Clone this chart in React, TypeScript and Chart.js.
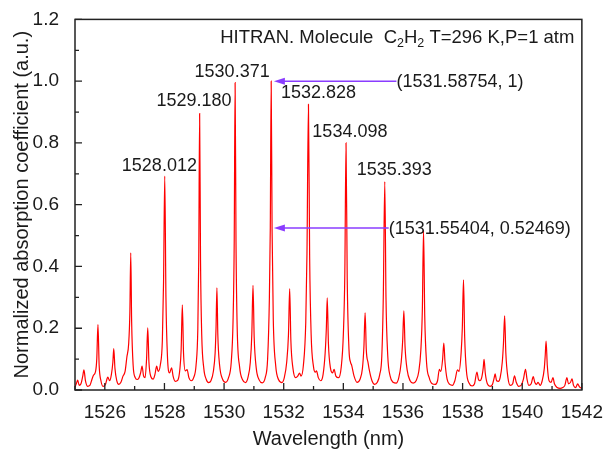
import React, { useEffect, useRef } from 'react';
import { Chart, registerables } from 'chart.js';

Chart.register(...registerables);

// Spectrum (wavelength in nm, normalized absorption)
const wavelength = [
  1525.00, 1525.05, 1525.09, 1525.14, 1525.20, 1525.26, 1525.30, 1525.35, 1525.42, 1525.50,
  1525.57, 1525.62, 1525.69, 1525.73, 1525.77, 1525.81, 1525.87, 1525.94, 1526.02, 1526.07,
  1526.10, 1526.16, 1526.22, 1526.27, 1526.30, 1526.34, 1526.40, 1526.47, 1526.54, 1526.61,
  1526.68, 1526.74, 1526.80, 1526.84, 1526.87, 1526.90, 1526.95, 1527.02, 1527.08, 1527.14,
  1527.20, 1527.25, 1527.30, 1527.35, 1527.40, 1527.44, 1527.48, 1527.55, 1527.62, 1527.68,
  1527.74, 1527.79, 1527.86, 1527.93, 1527.97, 1528.01, 1528.05, 1528.10, 1528.17, 1528.24,
  1528.29, 1528.36, 1528.45, 1528.52, 1528.56, 1528.60, 1528.64, 1528.70, 1528.76, 1528.82,
  1528.90, 1528.98, 1529.06, 1529.12, 1529.15, 1529.18, 1529.21, 1529.25, 1529.32, 1529.40,
  1529.48, 1529.56, 1529.64, 1529.70, 1529.73, 1529.76, 1529.79, 1529.85, 1529.95, 1530.05,
  1530.15, 1530.24, 1530.30, 1530.34, 1530.37, 1530.40, 1530.44, 1530.52, 1530.62, 1530.72,
  1530.80, 1530.88, 1530.93, 1530.97, 1531.01, 1531.08, 1531.18, 1531.28, 1531.38, 1531.46,
  1531.52, 1531.55, 1531.58, 1531.61, 1531.65, 1531.73, 1531.83, 1531.94, 1532.02, 1532.10,
  1532.16, 1532.20, 1532.24, 1532.31, 1532.40, 1532.47, 1532.53, 1532.58, 1532.66, 1532.74,
  1532.78, 1532.83, 1532.87, 1532.92, 1533.00, 1533.06, 1533.10, 1533.16, 1533.24, 1533.32,
  1533.39, 1533.43, 1533.46, 1533.50, 1533.57, 1533.64, 1533.69, 1533.75, 1533.84, 1533.93,
  1534.00, 1534.05, 1534.09, 1534.13, 1534.19, 1534.24, 1534.28, 1534.36, 1534.46, 1534.56,
  1534.64, 1534.69, 1534.73, 1534.77, 1534.83, 1534.88, 1534.96, 1535.05, 1535.14, 1535.22,
  1535.29, 1535.34, 1535.39, 1535.43, 1535.49, 1535.57, 1535.67, 1535.77, 1535.86, 1535.94,
  1535.99, 1536.03, 1536.07, 1536.14, 1536.24, 1536.34, 1536.44, 1536.53, 1536.60, 1536.65,
  1536.69, 1536.73, 1536.79, 1536.88, 1536.98, 1537.08, 1537.16, 1537.22, 1537.27, 1537.33,
  1537.37, 1537.41, 1537.48, 1537.57, 1537.66, 1537.74, 1537.83, 1537.88, 1537.95, 1537.99,
  1538.03, 1538.07, 1538.13, 1538.22, 1538.32, 1538.40, 1538.48, 1538.53, 1538.58, 1538.64,
  1538.69, 1538.72, 1538.76, 1538.83, 1538.92, 1539.00, 1539.06, 1539.09, 1539.14, 1539.20,
  1539.26, 1539.33, 1539.37, 1539.41, 1539.45, 1539.52, 1539.60, 1539.68, 1539.74, 1539.80,
  1539.88, 1539.96, 1540.04, 1540.11, 1540.16, 1540.22, 1540.30, 1540.37, 1540.42, 1540.48,
  1540.53, 1540.60, 1540.67, 1540.74, 1540.77, 1540.80, 1540.84, 1540.90, 1540.97, 1541.03,
  1541.08, 1541.17, 1541.27, 1541.36, 1541.43, 1541.50, 1541.55, 1541.62, 1541.67, 1541.72,
  1541.79, 1541.86, 1541.92, 1542.00,
];

const absorbance = [
  0.010, 0.022, 0.032, 0.015, 0.020, 0.045, 0.065, 0.030, 0.012, 0.015,
  0.035, 0.048, 0.060, 0.100, 0.212, 0.080, 0.030, 0.012, 0.018, 0.035,
  0.042, 0.030, 0.050, 0.090, 0.134, 0.070, 0.030, 0.018, 0.025, 0.045,
  0.060, 0.107, 0.150, 0.250, 0.444, 0.220, 0.080, 0.040, 0.034, 0.038,
  0.055, 0.077, 0.045, 0.040, 0.100, 0.201, 0.090, 0.042, 0.035, 0.050,
  0.077, 0.060, 0.080, 0.160, 0.350, 0.693, 0.300, 0.110, 0.055, 0.072,
  0.045, 0.028, 0.032, 0.070, 0.130, 0.276, 0.120, 0.062, 0.066, 0.040,
  0.030, 0.040, 0.080, 0.200, 0.420, 0.895, 0.420, 0.180, 0.070, 0.035,
  0.024, 0.030, 0.060, 0.120, 0.200, 0.331, 0.180, 0.080, 0.035, 0.025,
  0.040, 0.090, 0.220, 0.480, 0.995, 0.480, 0.200, 0.075, 0.033, 0.024,
  0.040, 0.090, 0.180, 0.339, 0.170, 0.070, 0.032, 0.023, 0.040, 0.100,
  0.300, 0.525, 1.000, 0.520, 0.230, 0.080, 0.033, 0.024, 0.040, 0.090,
  0.180, 0.328, 0.160, 0.070, 0.040, 0.045, 0.055, 0.045, 0.080, 0.220,
  0.440, 0.925, 0.430, 0.180, 0.075, 0.058, 0.062, 0.040, 0.030, 0.050,
  0.120, 0.200, 0.298, 0.150, 0.070, 0.055, 0.067, 0.045, 0.040, 0.075,
  0.180, 0.380, 0.800, 0.360, 0.130, 0.090, 0.080, 0.045, 0.025, 0.035,
  0.070, 0.140, 0.250, 0.130, 0.088, 0.060, 0.030, 0.018, 0.025, 0.050,
  0.110, 0.300, 0.675, 0.300, 0.110, 0.045, 0.025, 0.022, 0.040, 0.090,
  0.160, 0.256, 0.140, 0.065, 0.030, 0.022, 0.030, 0.060, 0.130, 0.260,
  0.518, 0.240, 0.090, 0.040, 0.020, 0.018, 0.030, 0.067, 0.060, 0.100,
  0.152, 0.090, 0.035, 0.018, 0.015, 0.030, 0.065, 0.060, 0.120, 0.200,
  0.357, 0.170, 0.060, 0.022, 0.013, 0.020, 0.058, 0.035, 0.030, 0.040,
  0.070, 0.099, 0.055, 0.020, 0.012, 0.018, 0.040, 0.052, 0.030, 0.028,
  0.040, 0.090, 0.150, 0.240, 0.120, 0.040, 0.015, 0.020, 0.046, 0.025,
  0.012, 0.015, 0.035, 0.067, 0.035, 0.015, 0.020, 0.043, 0.025, 0.018,
  0.025, 0.015, 0.030, 0.070, 0.110, 0.158, 0.080, 0.030, 0.025, 0.040,
  0.020, 0.008, 0.005, 0.008, 0.015, 0.040, 0.020, 0.025, 0.036, 0.015,
  0.008, 0.020, 0.010, 0.005,
];

// Peak labels (text, anchor wavelength, anchor value)
const peakLabels = ['1528.012', '1529.180', '1530.371', '1532.828', '1534.098', '1535.393'];
const peakLabelX = [1527.83, 1528.99, 1530.27, 1533.17, 1534.22, 1535.71];
const peakLabelY = [0.726, 0.935, 1.030, 0.962, 0.836, 0.713];

// Arrow annotations
const arrowLabels = ['(1531.58754, 1)', '(1531.55404, 0.52469)'];
const arrowTipX = [1531.67, 1531.67];
const arrowTextX = [1535.78, 1535.52];
const arrowY = [1, 0.52469];

// Header text pieces (subscript flags)
const headerParts = ['HITRAN. Molecule  C', '2', 'H', '2', ' T=296 K,P=1 atm'];
const headerSub = [false, true, false, true, false];
const headerX = 1529.87;
const headerY = 1.141;

const xTitle = 'Wavelength (nm)';
const yTitle = 'Normalized absorption coefficient (a.u.)';

const FONT = '"Liberation Sans", Arial, sans-serif';
const TEXT = '#1a1a1a';
const PURPLE = '#8a3cff';

const overlayPlugin = {
  id: 'overlay',
  afterDatasetsDraw(chart: any) {
    const { ctx, chartArea, scales } = chart;
    const xs = scales.x;
    const ys = scales.y;
    const { left, right, top, bottom } = chartArea;
    ctx.save();

    // frame
    ctx.strokeStyle = '#222';
    ctx.lineWidth = 1.5;
    ctx.strokeRect(left, top, right - left, bottom - top);

    // inward ticks
    ctx.lineWidth = 1.3;
    ctx.beginPath();
    xs.ticks.forEach((t: any) => {
      const px = xs.getPixelForValue(t.value);
      const major = Math.round(t.value) % 2 === 0;
      const len = major ? 7 : 4;
      ctx.moveTo(px, bottom);
      ctx.lineTo(px, bottom - len);
    });
    ys.ticks.forEach((t: any) => {
      const py = ys.getPixelForValue(t.value);
      const major = Math.round(t.value * 10) % 2 === 0;
      const len = major ? 7 : 4;
      ctx.moveTo(left, py);
      ctx.lineTo(left + len, py);
    });
    ctx.stroke();

    // peak labels
    ctx.fillStyle = TEXT;
    ctx.font = `18px ${FONT}`;
    ctx.textAlign = 'center';
    ctx.textBaseline = 'middle';
    peakLabels.forEach((s, i) => {
      ctx.fillText(s, xs.getPixelForValue(peakLabelX[i]), ys.getPixelForValue(peakLabelY[i]));
    });

    // arrows
    arrowLabels.forEach((s, i) => {
      const y = ys.getPixelForValue(arrowY[i]);
      const tip = xs.getPixelForValue(arrowTipX[i]);
      const start = xs.getPixelForValue(arrowTextX[i]);
      ctx.strokeStyle = PURPLE;
      ctx.fillStyle = PURPLE;
      ctx.lineWidth = 1.5;
      ctx.beginPath();
      ctx.moveTo(start, y);
      ctx.lineTo(tip + 8, y);
      ctx.stroke();
      ctx.beginPath();
      ctx.moveTo(tip, y);
      ctx.lineTo(tip + 11, y - 3.5);
      ctx.lineTo(tip + 11, y + 3.5);
      ctx.closePath();
      ctx.fill();
      ctx.fillStyle = TEXT;
      ctx.textAlign = 'left';
      ctx.textBaseline = 'middle';
      ctx.font = `18px ${FONT}`;
      ctx.fillText(s, start, y + 1);
    });

    // header
    let hx = xs.getPixelForValue(headerX);
    const hy = ys.getPixelForValue(headerY);
    ctx.textAlign = 'left';
    ctx.textBaseline = 'middle';
    headerParts.forEach((s, i) => {
      const sub = headerSub[i];
      ctx.font = sub ? `12.5px ${FONT}` : `18.5px ${FONT}`;
      ctx.fillText(s, hx, sub ? hy + 6 : hy);
      hx += ctx.measureText(s).width;
    });

    // axis titles
    ctx.font = `20px ${FONT}`;
    ctx.textAlign = 'center';
    ctx.textBaseline = 'middle';
    ctx.fillText(xTitle, (left + right) / 2, 439);
    ctx.save();
    ctx.translate(22, (top + bottom) / 2);
    ctx.rotate(-Math.PI / 2);
    ctx.fillText(yTitle, 0, 0);
    ctx.restore();

    ctx.restore();
  },
};

export default function App() {
  const ref = useRef<HTMLCanvasElement | null>(null);

  useEffect(() => {
    if (!ref.current) return;
    const points = wavelength.map((w, i) => ({ x: w, y: absorbance[i] }));
    const chart = new Chart(ref.current, {
      type: 'line',
      data: {
        datasets: [
          {
            data: points,
            borderColor: '#ff0000',
            borderWidth: 1.2,
            pointRadius: 0,
            cubicInterpolationMode: 'monotone',
            fill: false,
          },
        ],
      },
      options: {
        animation: false,
        responsive: false,
        devicePixelRatio: 1,
        layout: { padding: { left: 0, right: 21, top: 18, bottom: 0 } },
        plugins: { legend: { display: false }, tooltip: { enabled: false } },
        scales: {
          x: {
            type: 'linear',
            min: 1525,
            max: 1542,
            afterFit: (s: any) => { s.height = 61; },
            grid: { display: false },
            border: { display: false },
            ticks: {
              stepSize: 1,
              autoSkip: false,
              maxRotation: 0,
              padding: 3,
              color: TEXT,
              font: { family: FONT, size: 19 },
              callback: (v: any) => (Math.round(v) % 2 === 0 ? String(Math.round(v)) : ''),
            },
          },
          y: {
            min: 0,
            max: 1.2,
            afterFit: (s: any) => { s.width = 75; },
            grid: { display: false },
            border: { display: false },
            ticks: {
              stepSize: 0.1,
              autoSkip: false,
              padding: 8,
              color: TEXT,
              font: { family: FONT, size: 19 },
              callback: (v: any) => (Math.round(v * 10) % 2 === 0 ? Number(v).toFixed(1) : ''),
            },
          },
        },
      },
      plugins: [overlayPlugin],
    } as any);
    return () => chart.destroy();
  }, []);

  return (
    <div style={{ position: 'absolute', left: 0, top: 0, width: 606, height: 451, background: '#fff' }}>
      <canvas ref={ref} width={606} height={451} style={{ display: 'block' }} />
    </div>
  );
}
